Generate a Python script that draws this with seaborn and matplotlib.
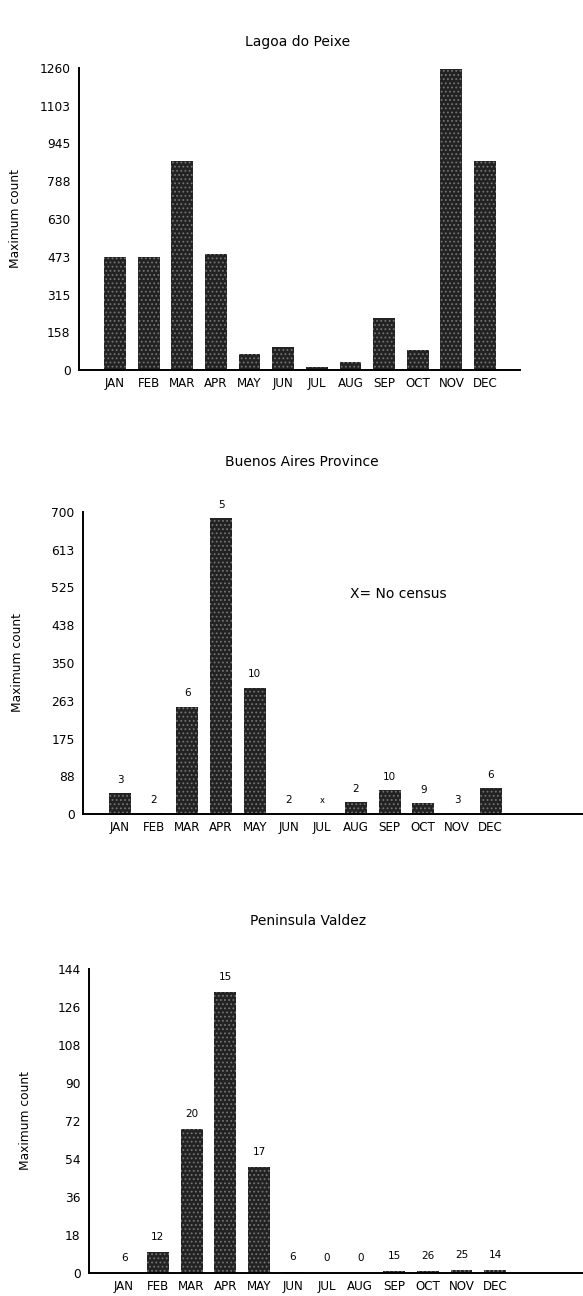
import matplotlib
matplotlib.use("Agg")
import matplotlib.pyplot as plt
import seaborn as sns
import pandas as pd

months = ["JAN", "FEB", "MAR", "APR", "MAY", "JUN",
          "JUL", "AUG", "SEP", "OCT", "NOV", "DEC"]

# Lagoa do Peixe
peixe_counts = [470, 472, 872, 483, 67, 97, 14, 35, 219, 83, 1257, 872]
peixe_ticks = [0, 158, 315, 473, 630, 788, 945, 1103, 1260]

# Buenos Aires Province
baires_counts = [49, 2, 249, 685, 293, 1, 0, 27, 56, 25, 2, 60]
baires_census = ["3", "2", "6", "5", "10", "2", "x", "2", "10", "9", "3", "6"]
baires_ticks = [0, 88, 175, 263, 350, 438, 525, 613, 700]

# Peninsula Valdez
valdez_counts = [0, 10, 68, 133, 50, 0.5, 0, 0, 1, 1, 1.5, 1.5]
valdez_census = ["6", "12", "20", "15", "17", "6", "0", "0", "15", "26", "25", "14"]
valdez_ticks = [0, 18, 36, 54, 72, 90, 108, 126, 144]

sns.set_style("white")
plt.rcParams["font.family"] = ["DejaVu Sans"]
plt.rcParams["text.color"] = "black"
plt.rcParams["xtick.color"] = "black"
plt.rcParams["ytick.color"] = "black"
plt.rcParams["hatch.linewidth"] = 0.8

W, H = 583, 1296
fig = plt.figure(figsize=(W / 100, H / 100), dpi=100)


def px_axes(left, right, bottom, top):
    return fig.add_axes([left / W, 1 - bottom / H, (right - left) / W, (bottom - top) / H])


def draw_panel(ax, counts, ticks, xlim, title, title_xy, ylab_x, census=None, offset=9):
    df = pd.DataFrame({"month": months, "count": counts})
    sns.barplot(data=df, x="month", y="count", order=months, color="#222222",
                saturation=1, width=0.65, edgecolor="#737373", linewidth=0,
                hatch="....", ax=ax)
    ax.set_xlim(*xlim)
    ax.set_ylim(0, ticks[-1])
    ax.set_yticks(ticks)
    ax.set_yticklabels([str(t) for t in ticks], fontsize=8.8)
    ax.tick_params(axis="y", direction="out", length=4, width=1, pad=2)
    ax.tick_params(axis="x", length=0, pad=5, labelsize=8.6)
    sns.despine(ax=ax)
    for s in ["left", "bottom"]:
        ax.spines[s].set_linewidth(1.4)
        ax.spines[s].set_color("black")
    ax.set_xlabel("")
    ax.set_ylabel("")
    pos = ax.get_position()
    fig.text(ylab_x / W, (pos.y0 + pos.y1) / 2, "Maximum count", rotation=90,
             ha="center", va="center", fontsize=8.8)
    fig.text(title_xy[0] / W, 1 - title_xy[1] / H, title, ha="center", va="center",
             fontsize=10)
    if census is not None:
        for patch, lab in zip(ax.patches, census):
            xc = patch.get_x() + patch.get_width() / 2
            ax.annotate(lab, (xc, patch.get_height()), xytext=(0, offset),
                        textcoords="offset points", ha="center", va="center",
                        fontsize=7.5 if lab != "x" else 6, annotation_clip=False)


ax1 = px_axes(79, 520, 370, 68)
draw_panel(ax1, peixe_counts, peixe_ticks, (-1.07, 12.04), "Lagoa do Peixe",
           (298, 42), 16)

ax2 = px_axes(83, 583, 814, 512)
draw_panel(ax2, baires_counts, baires_ticks, (-1.10, 13.74), "Buenos Aires Province",
           (302, 462), 18, census=baires_census, offset=9.5)
ax2.text(0.63, 0.73, "X= No census", transform=ax2.transAxes, ha="center",
         va="center", fontsize=10)

ax3 = px_axes(89, 583, 1273, 969)
draw_panel(ax3, valdez_counts, valdez_ticks, (-1.04, 13.6),
           "Peninsula Valdez", (308, 921), 26, census=valdez_census, offset=11)

fig.savefig("out.png", dpi=100)
